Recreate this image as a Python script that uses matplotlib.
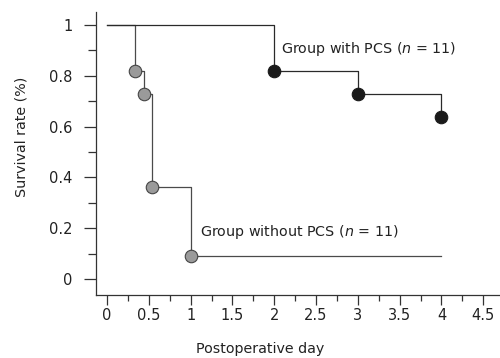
import matplotlib
matplotlib.use("Agg")
import matplotlib.pyplot as plt
from matplotlib.ticker import MultipleLocator

# Data (Kaplan-Meier steps)
pcs_x = [0, 2, 3, 4]
pcs_y = [1.0, 0.818, 0.727, 0.636]
nopcs_x = [0, 0.33, 0.44, 0.54, 1.0, 4.0]
nopcs_y = [1.0, 0.818, 0.727, 0.364, 0.091, 0.091]
pcs_events_x = [2, 3, 4]
pcs_events_y = [0.818, 0.727, 0.636]
nopcs_events_x = [0.33, 0.44, 0.54, 1.0]
nopcs_events_y = [0.818, 0.727, 0.364, 0.091]

xticks = [0, 0.5, 1, 1.5, 2, 2.5, 3, 3.5, 4, 4.5]
xticklabels = ["0", "0.5", "1", "1.5", "2", "2.5", "3", "3.5", "4", "4.5"]
yticks = [0, 0.2, 0.4, 0.6, 0.8, 1]
yticklabels = ["0", "0.2", "0.4", "0.6", "0.8", "1"]

fig = plt.figure(figsize=(5, 3.58), dpi=100)
ax = fig.add_axes([96/500, (358-295)/358, (500-96)/500, (295-12)/358])

ax.step(nopcs_x, nopcs_y, where='post', color='#4a4a4a', lw=0.9, zorder=2)
ax.step(pcs_x, pcs_y, where='post', color='#2a2a2a', lw=0.9, zorder=2)
ax.plot(nopcs_events_x, nopcs_events_y, 'o', ms=9, mfc='#9a9a9a', mec='#444444', mew=0.8, zorder=3)
ax.plot(pcs_events_x, pcs_events_y, 'o', ms=9, mfc='#1a1a1a', mec='#1a1a1a', mew=0.8, zorder=3)

ax.set_xlim(-0.132, 4.70)
ax.set_ylim(-0.063, 1.051)

for s in ['top', 'right']:
    ax.spines[s].set_visible(False)
for s in ['left', 'bottom']:
    ax.spines[s].set_color('#333333')
    ax.spines[s].set_linewidth(0.9)

ax.set_xticks(xticks)
ax.set_xticklabels(xticklabels)
ax.set_yticks(yticks)
ax.set_yticklabels(yticklabels)
ax.xaxis.set_minor_locator(MultipleLocator(0.25))
ax.yaxis.set_minor_locator(MultipleLocator(0.1))
ax.tick_params(axis='both', which='major', direction='out', length=7, width=0.9,
               color='#333333', labelsize=10.5, labelcolor='#222222')
ax.tick_params(axis='both', which='minor', direction='out', length=4, width=0.9, color='#333333')
ax.tick_params(axis='x', which='major', pad=2)
ax.tick_params(axis='y', which='major', length=9, pad=8)
ax.tick_params(axis='y', which='minor', length=6)

ax.text(2.08, 0.905, "Group with PCS ($\\mathit{n}$ = 11)", fontsize=10.3, color='#222222', va='center', ha='left')
ax.text(1.11, 0.185, "Group without PCS ($\\mathit{n}$ = 11)", fontsize=10.3, color='#222222', va='center', ha='left')

fig.text(260/500, 1 - 349/358, "Postoperative day", fontsize=10.3, color='#222222', ha='center', va='center')
fig.text(22/500, 1 - 137/358, "Survival rate (%)", fontsize=10.3, color='#222222', ha='center', va='center', rotation=90)

fig.savefig("out.png", dpi=100)
